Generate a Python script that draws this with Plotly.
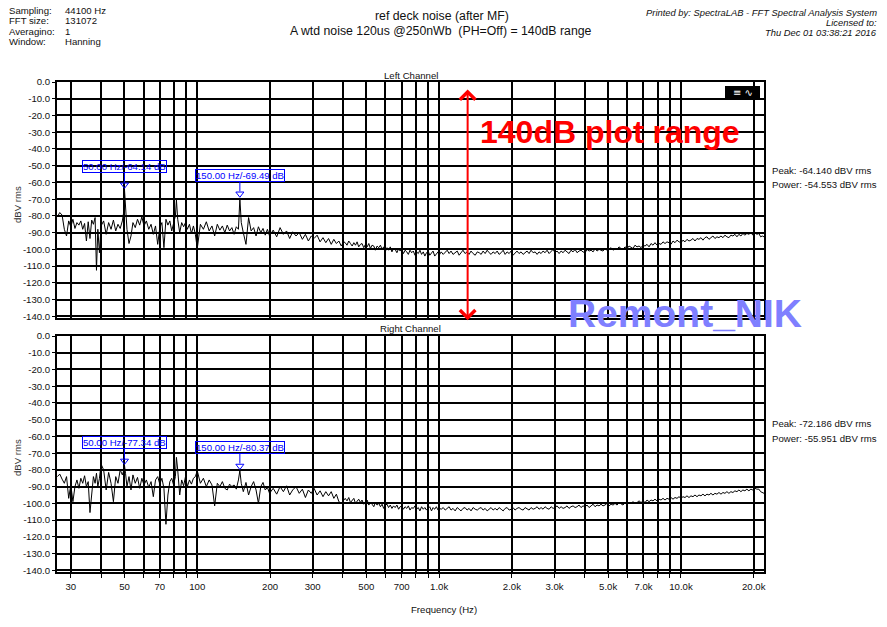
import math
import plotly.graph_objects as go

# ---------------- data ----------------
FREQ_LOW_HZ = [
    26.4, 27.0, 27.6, 28.2, 28.8, 29.4, 30.0, 30.6, 31.2, 31.8, 32.4, 33.0, 33.6, 34.2, 34.8, 35.4,
    36.0, 36.6, 37.2, 37.8, 38.3, 38.8, 39.4, 40.0,
    41.0, 42.0, 43.0, 44.0, 45.0, 46.0, 47.0, 48.0, 49.0, 49.6, 50.0, 50.5, 51.2, 52.2, 53.2, 54.2,
    55.4, 56.6, 57.8, 59.0, 60.2,
    61.6, 63.0, 64.4, 65.8, 67.2, 68.6, 70.0, 71.4, 72.8, 74.2, 75.6, 77.0, 78.4, 79.8, 81.2, 82.0,
    83.0, 84.6, 86.2, 87.8, 89.4, 91.0, 92.8, 94.6, 96.4, 98.2, 100.0,
    103, 106, 109, 112, 115, 118, 121, 124, 127, 130, 133, 136, 139, 142, 145, 148, 150, 152, 155,
    159, 163, 167, 171, 175, 179, 183, 187, 191, 195, 199,
    206, 213, 220, 227, 234, 241, 248, 256, 264, 272, 280, 288, 296, 304, 313, 322, 331, 340, 349,
    358, 367, 376, 385, 394, 403,
]
FREQ_HIGH_HZ = [
    409, 416, 423, 430, 437, 444, 451, 458, 465, 473,
    480, 488, 496, 504, 512, 520, 528, 537, 545, 554,
    563, 572, 581, 590, 600, 609, 618, 628, 638, 648,
    658, 669, 680, 690, 701, 712, 723, 735, 746, 758,
    770, 782, 795, 807, 820, 833, 846, 860, 873, 887,
    901, 915, 930, 944, 959, 974, 990, 1005,
    1020, 1040, 1060, 1080, 1100, 1120, 1142, 1165, 1188, 1210,
    1232, 1255, 1280, 1305, 1330, 1355, 1382, 1410, 1438, 1465,
    1492, 1520, 1550, 1580, 1610, 1640, 1672, 1705, 1738, 1770,
    1805, 1840, 1875, 1910, 1948, 1985, 2022, 2060, 2100, 2140,
    2182, 2225, 2268, 2310, 2355, 2400, 2448, 2495, 2542, 2590,
    2640, 2690, 2742, 2795, 2850, 2905, 2960, 3015, 3075, 3135,
    3195, 3255, 3318, 3380, 3445, 3510, 3580, 3650, 3720, 3790,
    3862, 3935, 4012, 4090, 4170, 4250, 4332, 4415, 4500, 4585,
    4672, 4760, 4852, 4945, 5042, 5140, 5240, 5340, 5442, 5545,
    5652, 5760, 5872, 5985, 6100, 6215, 6335, 6455, 6582, 6710,
    6840, 6970, 7105, 7240, 7380, 7520, 7665, 7810, 7962, 8115,
    8272, 8430, 8592, 8755, 8925, 9095, 9272, 9450, 9632, 9815,
    10005, 10195, 10392, 10590, 10795, 11000, 11215, 11430, 11650, 11870,
    12100, 12330, 12570, 12810, 13058, 13305, 13562, 13820, 14090, 14360,
    14638, 14915, 15202, 15490, 15790, 16090, 16402, 16715, 17040, 17365,
    17700, 18035, 18385, 18735, 19098, 19460, 19838, 20215, 20608, 21000,
    21350, 21700, 22050,
]

LEFT_LOW_DBV = [
    -80.5, -78.0, -79.5, -88.0, -92.0, -83.0, -86.5, -82.0, -87.5, -84.0, -85.5, -83.0, -88.0, -84.5, -95.0, -83.5,
    -93.5, -82.5, -85.0, -81.0, -112.5, -88.0, -102.0, -86.0,
    -83.0, -91.0, -84.0, -88.0, -82.5, -89.0, -85.0, -87.5, -83.0, -78.0, -64.14, -76.0, -88.0, -96.5, -92.0, -84.0,
    -87.0, -82.0, -85.5, -80.5, -86.0,
    -83.0, -88.0, -85.0, -91.0, -86.0, -97.0, -87.0, -84.0, -99.0, -82.0, -85.5, -83.0, -89.0, -84.0, -80.0, -70.5,
    -82.0, -90.0, -84.0, -86.5, -84.0, -88.0, -85.0, -90.5, -86.0, -91.0, -99.5,
    -85.0, -88.0, -83.5, -89.0, -86.0, -92.0, -85.0, -88.5, -86.0, -90.0, -85.5, -89.0, -87.0, -91.0, -86.5, -88.0, -69.49, -84.0, -90.0,
    -97.0, -81.0, -89.0, -87.0, -92.0, -86.5, -90.0, -87.5, -91.5, -88.0, -92.0,
    -88.5, -92.5, -87.0, -91.0, -89.0, -93.5, -89.5, -92.0, -90.0, -94.0, -91.0, -95.0, -92.0, -93.5, -91.5, -95.5, -93.0, -96.0, -93.5,
    -97.0, -94.0, -96.5, -95.0, -98.0, -95.5,
]
LEFT_HIGH_DBV = [
    -96.0, -97.5, -95.0, -96.5, -98.0, -96.0, -97.5, -95.5, -98.5, -97.0,
    -96.5, -99.0, -97.0, -98.5, -96.5, -99.5, -97.5, -98.0, -100.5, -98.0,
    -99.0, -97.5, -100.0, -98.5, -101.0, -99.0, -100.5, -98.5, -101.5, -99.5,
    -100.0, -102.0, -99.5, -101.0, -100.0, -102.5, -100.5, -101.5, -103.0, -100.5,
    -102.0, -101.0, -103.5, -101.5, -102.5, -100.5, -103.0, -101.5, -104.0, -102.0,
    -101.0, -103.5, -102.0, -101.0, -104.0, -102.5, -101.5, -103.0,
    -101.5, -103.0, -102.0, -100.5, -102.5, -101.0, -103.0, -102.0, -101.0, -103.5,
    -102.0, -100.5, -102.5, -101.5, -103.0, -101.0, -102.5, -103.5, -101.5, -102.0,
    -103.0, -101.0, -102.5, -100.5, -102.0, -103.0, -101.5, -102.5, -101.0, -103.0,
    -102.0, -100.5, -103.0, -101.5, -102.5, -101.0, -103.5, -102.0, -101.0, -102.5,
    -101.5, -103.0, -102.0, -101.0, -102.5, -100.5, -102.0, -101.5, -103.0, -101.5,
    -102.5, -101.0, -102.0, -100.5, -102.5, -101.5, -100.0, -102.0, -101.0, -102.5,
    -101.0, -102.0, -100.5, -101.5, -102.5, -100.5, -101.5, -100.0, -102.0, -101.0,
    -100.5, -101.5, -102.0, -100.0, -101.0, -100.5, -101.5, -99.5, -101.0, -100.0,
    -100.5, -101.0, -99.5, -100.5, -100.0, -99.0, -100.5, -99.5, -100.0, -98.5,
    -99.5, -100.0, -98.5, -99.5, -98.0, -99.0, -99.5, -97.5, -98.5, -98.0,
    -99.0, -97.5, -98.0, -97.0, -98.5, -96.5, -97.5, -96.0, -97.5, -96.5,
    -97.0, -95.5, -96.5, -95.5, -96.0, -97.0, -95.0, -96.0, -94.5, -95.5,
    -96.0, -94.5, -95.5, -94.0, -95.0, -94.5, -93.5, -95.0, -93.5, -94.0,
    -93.0, -94.5, -93.0, -92.5, -94.0, -93.0, -92.0, -93.5, -92.5, -93.0,
    -92.0, -93.0, -91.5, -92.5, -93.0, -91.5, -92.0, -91.0, -92.5, -91.0,
    -92.0, -90.5, -91.5, -90.5, -91.0, -90.0, -91.5, -90.0, -91.0, -90.5,
    -92.5, -92.0, -92.5,
]

RIGHT_LOW_DBV = [
    -84.0, -82.5, -85.5, -88.0, -84.0, -97.0, -89.0, -99.0, -90.0, -86.0, -91.0, -85.0, -88.0, -83.5, -90.0, -87.0,
    -105.5, -92.0, -84.0, -88.0, -82.0, -90.0, -85.0, -76.5,
    -80.0, -92.0, -81.5, -88.0, -99.0, -84.0, -88.0, -80.0, -83.0, -80.5, -77.34, -82.0, -90.0, -84.0, -92.0, -83.0,
    -88.0, -84.5, -91.0, -85.0, -89.0,
    -86.0, -90.5, -87.0, -96.0, -86.0, -84.0, -88.5, -85.0, -91.0, -112.5, -95.0, -87.0, -85.0, -89.0, -84.0, -72.5,
    -80.0, -95.0, -86.0, -89.5, -84.0, -90.0, -86.0, -88.5, -85.0, -84.0, -80.5,
    -88.0, -85.0, -90.0, -86.0, -89.0, -101.5, -88.0, -90.0, -87.0, -91.0, -92.0, -88.5, -90.0, -89.0, -91.5, -86.0, -80.37, -88.0, -93.0,
    -87.5, -95.0, -90.0, -87.0, -92.0, -100.0, -90.0, -87.5, -92.0, -90.5, -94.0,
    -91.0, -94.5, -90.0, -93.0, -89.5, -95.0, -92.0, -90.0, -94.0, -91.5, -96.5, -92.0, -94.0, -91.0, -95.0, -92.5, -96.0, -93.0, -95.5,
    -93.0, -97.0, -94.5, -99.0, -100.0, -98.5,
]
RIGHT_HIGH_DBV = [
    -97.0, -98.5, -96.5, -99.5, -98.0, -97.0, -100.0, -98.5, -97.5, -99.5,
    -98.0, -100.5, -99.0, -98.0, -101.0, -99.5, -100.5, -102.0, -99.5, -101.0,
    -100.0, -102.0, -100.5, -103.0, -101.0, -100.5, -102.5, -101.0, -103.0, -101.5,
    -102.5, -101.0, -103.5, -102.0, -101.5, -103.5, -102.0, -103.0, -101.5, -104.0,
    -102.5, -103.0, -101.5, -103.5, -102.5, -104.5, -102.0, -103.5, -102.5, -104.0,
    -103.0, -102.0, -104.5, -102.5, -103.5, -102.0, -104.0, -103.0,
    -103.5, -102.5, -104.0, -103.0, -102.0, -104.0, -103.0, -104.5, -102.5, -103.5,
    -104.5, -103.0, -102.5, -104.0, -103.0, -104.5, -102.5, -103.5, -104.0, -103.0,
    -102.5, -104.0, -103.0, -104.5, -103.5, -102.5, -104.0, -103.0, -104.0, -102.5,
    -103.5, -104.5, -103.0, -102.5, -104.0, -103.5, -102.5, -104.0, -103.0, -102.5,
    -103.5, -104.0, -102.5, -103.0, -104.0, -102.5, -103.5, -103.0, -102.0, -103.5,
    -102.5, -103.5, -102.0, -103.0, -103.5, -102.0, -103.0, -102.5, -101.5, -103.0,
    -102.0, -103.0, -102.5, -101.5, -103.0, -102.0, -101.5, -102.5, -102.0, -101.0,
    -102.5, -101.5, -102.0, -101.0, -102.5, -101.5, -100.5, -102.0, -101.0, -101.5,
    -100.5, -101.5, -101.0, -100.0, -101.5, -100.5, -101.0, -100.0, -101.0, -99.5,
    -100.5, -101.0, -99.5, -100.5, -99.5, -100.0, -99.0, -100.0, -99.5, -98.5,
    -99.5, -98.5, -99.5, -98.0, -99.0, -98.0, -98.5, -97.5, -98.5, -97.5,
    -98.0, -97.0, -98.0, -97.0, -97.5, -96.5, -97.5, -96.5, -97.0, -96.0,
    -97.0, -96.0, -96.5, -95.5, -96.5, -95.5, -96.0, -95.0, -96.0, -95.0,
    -95.5, -94.5, -95.5, -94.5, -95.0, -94.0, -95.0, -94.0, -94.5, -93.5,
    -94.5, -93.5, -94.0, -93.0, -94.0, -93.0, -93.5, -92.5, -93.0, -92.0,
    -93.0, -92.0, -92.5, -91.5, -92.5, -91.5, -92.0, -91.0, -91.5, -91.5,
    -93.0, -93.5, -94.0,
]

LEFT_MARKERS_HZ = [50.0, 150.0]
LEFT_MARKERS_DB = [-64.14, -69.49]
RIGHT_MARKERS_HZ = [50.0, 150.0]
RIGHT_MARKERS_DB = [-77.34, -80.37]

GRID_HZ = [30, 40, 50, 60, 70, 80, 90, 100, 200, 300, 400, 500, 600, 700, 800, 900,
           1000, 2000, 3000, 4000, 5000, 6000, 7000, 8000, 9000, 10000, 20000]
GRID_LABELS = ["30", "", "50", "", "70", "", "", "100", "200", "300", "", "500", "", "700", "", "",
               "1.0k", "2.0k", "3.0k", "", "5.0k", "", "7.0k", "", "", "10.0k", "20.0k"]
DB_TICKS = [0, -10, -20, -30, -40, -50, -60, -70, -80, -90, -100, -110, -120, -130, -140]
DB_LABELS = ["0.0", "-10.0", "-20.0", "-30.0", "-40.0", "-50.0", "-60.0", "-70.0", "-80.0",
             "-90.0", "-100.0", "-110.0", "-120.0", "-130.0", "-140.0"]

HEADER_KEYS = ["Sampling:", "FFT size:", "Averagino:", "Window:"]
HEADER_VALUES = ["44100 Hz", "131072", "1", "Hanning"]
PRINT_LINES = ["Printed by: SpectraLAB - FFT Spectral Analysis System", "Licensed to:",
               "Thu Dec 01 03:38:21 2016"]
LEFT_STATS = ["Peak: -64.140 dBV rms", "Power: -54.553 dBV rms"]
RIGHT_STATS = ["Peak: -72.186 dBV rms", "Power: -55.951 dBV rms"]

FREQ_HZ = FREQ_LOW_HZ + FREQ_HIGH_HZ
LEFT_DBV = LEFT_LOW_DBV + LEFT_HIGH_DBV
RIGHT_DBV = RIGHT_LOW_DBV + RIGHT_HIGH_DBV

# ---------------- layout helpers ----------------
W, H = 887, 627
ML, MR, MT, MB = 57, 123, 82, 55
PW, PH = W - ML - MR, H - MT - MB
FONT = "Liberation Sans, Arial, sans-serif"
SMALL = 9.6


def px(xp):
    return (xp - ML) / PW


def py(yp):
    return (H - MB - yp) / PH


fig = go.Figure()

fig.add_trace(go.Scatter(x=FREQ_HZ, y=LEFT_DBV, xaxis="x2", yaxis="y2", mode="lines",
                         line=dict(color="black", width=1), hoverinfo="skip"))
fig.add_trace(go.Scatter(x=FREQ_HZ, y=RIGHT_DBV, xaxis="x", yaxis="y", mode="lines",
                         line=dict(color="black", width=1), hoverinfo="skip"))

MARK_OFFSET_DB = 2.7
annotations = []
for hz_list, db_list, xa, ya in [(LEFT_MARKERS_HZ, LEFT_MARKERS_DB, "x2", "y2"),
                                 (RIGHT_MARKERS_HZ, RIGHT_MARKERS_DB, "x", "y")]:
    fig.add_trace(go.Scatter(x=hz_list, y=[d + MARK_OFFSET_DB for d in db_list], xaxis=xa, yaxis=ya,
                             mode="markers", hoverinfo="skip",
                             marker=dict(symbol="triangle-down-open", size=7, color="#0000ff",
                                         line=dict(width=1, color="#0000ff"))))
    for hz, db in zip(hz_list, db_list):
        annotations.append(dict(
            x=math.log10(hz), y=db, xref=xa, yref=ya, text=f"{hz:.2f} Hz/{db:.2f} dB",
            showarrow=True, arrowhead=0, arrowwidth=1, arrowcolor="#0000ff", ax=0, ay=-23,
            standoff=7, font=dict(family=FONT, size=SMALL, color="#0000ff"),
            bordercolor="#0000ff", borderwidth=1, borderpad=0))

axis_common = dict(type="log", range=[math.log10(26.3), math.log10(22050)],
                   tickvals=GRID_HZ, ticktext=GRID_LABELS,
                   showgrid=True, gridcolor="black", gridwidth=1.8,
                   showline=True, linecolor="black", linewidth=2, mirror=True,
                   zeroline=False, tickfont=dict(family=FONT, size=SMALL, color="#111"))
yaxis_common = dict(range=[-141, 0], tickvals=DB_TICKS, ticktext=DB_LABELS,
                    showgrid=True, gridcolor="black", gridwidth=1.8,
                    showline=True, linecolor="black", linewidth=2, mirror=True,
                    zeroline=False, ticks="outside", ticklen=3, tickcolor="black",
                    tickfont=dict(family=FONT, size=SMALL, color="#111"))

gap = 18 / PH
fig.update_layout(
    width=W, height=H, autosize=False,
    margin=dict(l=ML, r=MR, t=MT, b=MB),
    paper_bgcolor="white", plot_bgcolor="white", showlegend=False,
    xaxis=dict(anchor="y", ticks="outside", ticklen=4, tickcolor="black", **axis_common),
    xaxis2=dict(anchor="y2", matches="x", ticks="", showticklabels=False, **axis_common),
    yaxis=dict(anchor="x", domain=[0, (1 - gap) / 2], **yaxis_common),
    yaxis2=dict(anchor="x2", domain=[(1 + gap) / 2, 1], **yaxis_common),
)

for i, (k, v) in enumerate(zip(HEADER_KEYS, HEADER_VALUES)):
    yy = py(10.5 + i * 10.3)
    annotations.append(dict(x=px(7), y=yy, xref="paper", yref="paper", text=k, showarrow=False,
                            xanchor="left", yanchor="middle", font=dict(family=FONT, size=SMALL, color="#111")))
    annotations.append(dict(x=px(63), y=yy, xref="paper", yref="paper", text=v, showarrow=False,
                            xanchor="left", yanchor="middle", font=dict(family=FONT, size=SMALL, color="#111")))
annotations.append(dict(x=px(442), y=py(16), xref="paper", yref="paper", text="ref deck noise (after MF)",
                        showarrow=False, xanchor="center", yanchor="middle",
                        font=dict(family=FONT, size=12.3, color="#111")))
annotations.append(dict(x=px(441), y=py(31), xref="paper", yref="paper",
                        text="A wtd noise 120us @250nWb&nbsp; (PH=Off) = 140dB range",
                        showarrow=False, xanchor="center", yanchor="middle",
                        font=dict(family=FONT, size=12.3, color="#111")))
for i, t in enumerate(PRINT_LINES):
    annotations.append(dict(x=px(879), y=py(12.5 + i * 10), xref="paper", yref="paper",
                            text=f"<i>{t}</i>", showarrow=False, xanchor="right", yanchor="middle",
                            font=dict(family=FONT, size=9.4, color="#111")))

annotations.append(dict(x=0.5, y=py(75), xref="paper", yref="paper", text="Left Channel", showarrow=False,
                        xanchor="center", yanchor="middle", font=dict(family=FONT, size=SMALL, color="#111")))
annotations.append(dict(x=0.5, y=py(328), xref="paper", yref="paper", text="Right Channel", showarrow=False,
                        xanchor="center", yanchor="middle", font=dict(family=FONT, size=SMALL, color="#111")))
for yc in (205, 458):
    annotations.append(dict(x=px(17), y=py(yc), xref="paper", yref="paper", text="dBV rms", showarrow=False,
                            textangle=-90, xanchor="center", yanchor="middle",
                            font=dict(family=FONT, size=SMALL, color="#333")))
annotations.append(dict(x=px(444), y=py(609), xref="paper", yref="paper", text="Frequency (Hz)",
                        showarrow=False, xanchor="center", yanchor="middle",
                        font=dict(family=FONT, size=SMALL, color="#111")))

for lines, y0 in ((LEFT_STATS, 170), (RIGHT_STATS, 424)):
    for i, t in enumerate(lines):
        annotations.append(dict(x=px(770), y=py(y0 + i * 14.5), xref="paper", yref="paper", text=t,
                                showarrow=False, xanchor="left", yanchor="middle",
                                font=dict(family=FONT, size=SMALL, color="#111")))

ARROW_HZ = 1312
annotations.append(dict(x=math.log10(ARROW_HZ), y=-142.3, xref="x2", yref="y2",
                        ax=math.log10(ARROW_HZ), ay=-3.6, axref="x2", ayref="y2", text="",
                        showarrow=True, arrowside="end+start", arrowhead=4, startarrowhead=4,
                        arrowsize=1.5, startarrowsize=1.5, arrowwidth=2, arrowcolor="#ff0000"))
annotations.append(dict(x=px(610), y=py(132), xref="paper", yref="paper", text="<b>140dB plot range</b>",
                        showarrow=False, xanchor="center", yanchor="middle",
                        font=dict(family=FONT, size=32, color="#ff0000")))
annotations.append(dict(x=px(685), y=py(313), xref="paper", yref="paper", text="<b>Remont_NIK</b>",
                        showarrow=False, xanchor="center", yanchor="middle",
                        font=dict(family=FONT, size=39, color="#7f7fff")))

fig.add_shape(type="rect", xref="paper", yref="paper", x0=px(725), x1=px(760), y0=py(98), y1=py(86),
              fillcolor="black", line=dict(width=0))
annotations.append(dict(x=px(742.5), y=py(92), xref="paper", yref="paper", text="≡ ∿", showarrow=False,
                        xanchor="center", yanchor="middle",
                        font=dict(family="DejaVu Sans", size=10, color="white")))

fig.update_layout(annotations=annotations)
fig.write_html("out.html", config={"displayModeBar": False},
               post_script="document.body.style.margin='0px';")
